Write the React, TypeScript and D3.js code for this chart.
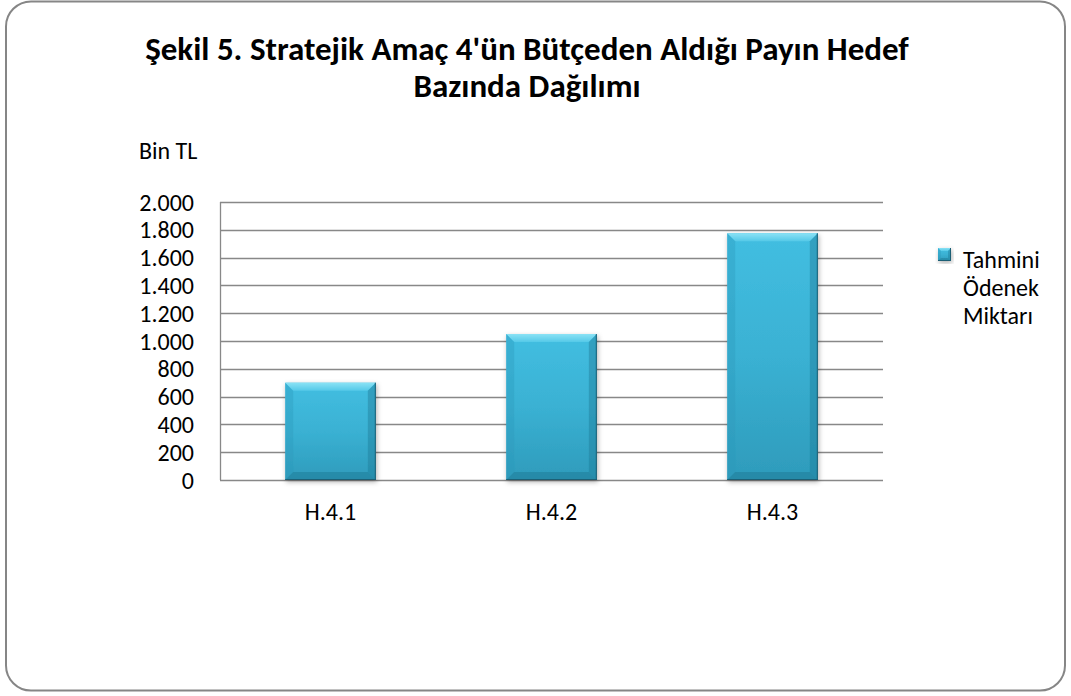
import React from "react";
import * as d3 from "d3";

const titleLines = ["Şekil 5. Stratejik Amaç 4'ün Bütçeden Aldığı Payın Hedef", "Bazında Dağılımı"];
const unitLabel = "Bin TL";
const categories = ["H.4.1", "H.4.2", "H.4.3"];
const values = [700, 1050, 1775];
const yTicks = [0, 200, 400, 600, 800, 1000, 1200, 1400, 1600, 1800, 2000];
const legendLines = ["Tahmini", "Ödenek", "Miktarı"];

const W = 1071;
const H = 696;
const plot = { left: 220, right: 883, top: 202, bottom: 480 };
const FONT = "Carlito, Calibri, Lato, sans-serif";

const trLocale = d3.formatLocale({ decimal: ",", thousands: ".", grouping: [3], currency: ["", " TL"] });
const fmt = trLocale.format(",");

function BevelBar({ x, y, w, h, b0 = 8 }: { x: number; y: number; w: number; h: number; b0?: number }) {
  const b = Math.min(b0, w / 4, h / 4);
  return (
    <g filter="url(#shadow)">
      <rect x={x} y={y} width={w} height={h} fill="url(#barGrad)" />
      <polygon points={`${x},${y} ${x + w},${y} ${x + w - b},${y + b} ${x + b},${y + b}`} fill="url(#topBevel)" />
      <polygon points={`${x},${y} ${x + b},${y + b} ${x + b},${y + h - b} ${x},${y + h}`} fill="#2a98b9" opacity={0.35} />
      <polygon points={`${x + w},${y} ${x + w},${y + h} ${x + w - b},${y + h - b} ${x + w - b},${y + b}`} fill="#1f7d98" opacity={0.45} />
      <polygon points={`${x},${y + h} ${x + w},${y + h} ${x + w - b},${y + h - b} ${x + b},${y + h - b}`} fill="#1d7590" opacity={0.45} />
      <line x1={x + w - 0.5} y1={y} x2={x + w - 0.5} y2={y + h} stroke="#1a5f75" strokeWidth={1} />
      <line x1={x} y1={y + h - 0.5} x2={x + w} y2={y + h - 0.5} stroke="#1a5f75" strokeWidth={1} />
    </g>
  );
}

export default function App() {
  const x = d3.scaleBand<string>().domain(categories).range([plot.left, plot.right]).paddingInner(0.59).paddingOuter(0.295);
  const y = d3.scaleLinear().domain([0, 2000]).range([plot.bottom, plot.top]);

  return (
    <svg width={W} height={H} style={{ position: "absolute", left: 0, top: 0, background: "#fff" }} fontFamily={FONT}>
      <defs>
        <linearGradient id="barGrad" x1="0" y1="0" x2="0" y2="1">
          <stop offset="0" stopColor="#42bee1" />
          <stop offset="0.5" stopColor="#3ab1d3" />
          <stop offset="1" stopColor="#2e9bbb" />
        </linearGradient>
        <linearGradient id="topBevel" x1="0" y1="0" x2="0" y2="1">
          <stop offset="0" stopColor="#8ae2f5" />
          <stop offset="1" stopColor="#55c9e8" />
        </linearGradient>
        <filter id="shadow" x="-20%" y="-20%" width="140%" height="140%">
          <feDropShadow dx="1" dy="2" stdDeviation="2.5" floodColor="#000" floodOpacity="0.3" />
        </filter>
      </defs>
      <rect x={6} y={1.5} width={1059} height={689} rx={25} ry={25} fill="#fff" stroke="#868686" strokeWidth={2} />

      {titleLines.map((t, i) => (
        <text key={i} x={527} y={60 + i * 37} textAnchor="middle" fontSize={33} fontWeight="bold" fill="#000">{t}</text>
      ))}

      <text x={139} y={159} fontSize={24} fill="#000">{unitLabel}</text>

      {yTicks.map((t) => (
        <g key={t}>
          <line x1={plot.left} x2={plot.right} y1={Math.round(y(t)) + 0.5} y2={Math.round(y(t)) + 0.5} stroke="#888888" strokeWidth={1.3} />
          <text x={194} y={y(t) + 8.5} textAnchor="end" fontSize={24} fill="#000">{fmt(t)}</text>
        </g>
      ))}
      <line x1={plot.left + 0.5} x2={plot.left + 0.5} y1={plot.top} y2={plot.bottom} stroke="#888888" strokeWidth={1.3} />

      {categories.map((c, i) => (
        <BevelBar key={c} x={x(c)!} y={y(values[i])} w={x.bandwidth()} h={plot.bottom - y(values[i])} />
      ))}

      {categories.map((c) => (
        <text key={c} x={x(c)! + x.bandwidth() / 2} y={plot.bottom + 40} textAnchor="middle" fontSize={24} fill="#000">{c}</text>
      ))}

      <g>
        <BevelBar x={938} y={248} w={13} h={13} b0={3} />
        {legendLines.map((l, i) => (
          <text key={l} x={963} y={268 + i * 28} fontSize={24} fill="#000">{l}</text>
        ))}
      </g>
    </svg>
  );
}
